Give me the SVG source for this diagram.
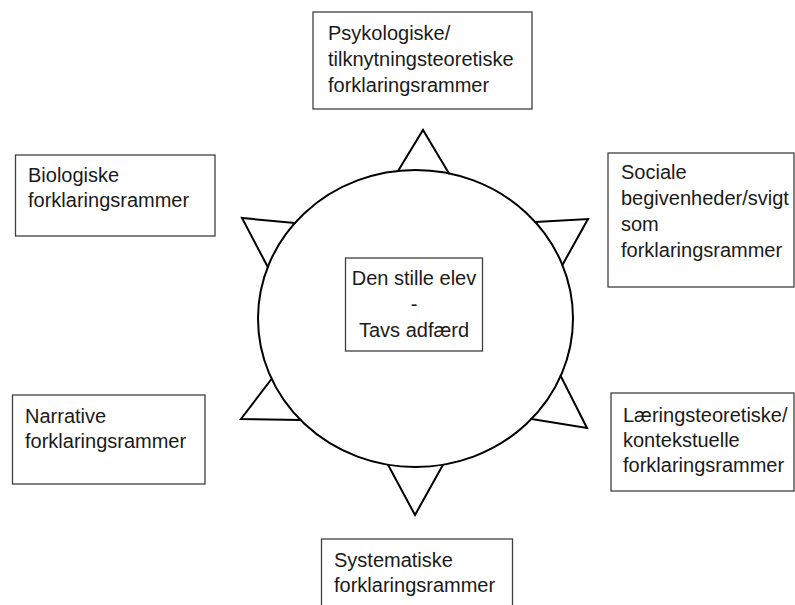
<svg xmlns="http://www.w3.org/2000/svg" width="795" height="605" viewBox="0 0 795 605">
<style>
  .box { fill: #ffffff; stroke: #404040; stroke-width: 1.3; }
  .lbl { font-family: "Liberation Sans", Arial, sans-serif; font-size: 20px; fill: #1a1a1a; }
  .mid { text-anchor: middle; }
  .shape { fill: none; stroke: #000000; stroke-width: 2; stroke-linejoin: miter; stroke-linecap: round; }
</style>
<rect width="795" height="605" fill="#ffffff"/>

<g id="center">
  <ellipse class="shape" cx="415.5" cy="318.5" rx="157.5" ry="148.5"/>
  <rect class="box" x="345.5" y="258" width="137" height="93"/>
  <text class="lbl mid" x="414" y="285">Den stille elev</text>
  <text class="lbl mid" x="414" y="311">-</text>
  <text class="lbl mid" x="414" y="337">Tavs adfærd</text>
</g>

<g id="connectors">
  <polyline class="shape" points="398,171 423,130 449,173.4"/>
  <polyline class="shape" points="294.9,223 242,218 267.8,267"/>
  <polyline class="shape" points="535.2,222 588,219 562.4,265"/>
  <polyline class="shape" points="271.5,379 241,419 300.5,420"/>
  <polyline class="shape" points="560.7,376 587,428 531.5,419"/>
  <polyline class="shape" points="388,464.7 415,515 443,464.7"/>
</g>

<g id="psykologiske">
  <rect class="box" x="313" y="12" width="219" height="97"/>
  <text class="lbl" x="328" y="40">Psykologiske/</text>
  <text class="lbl" x="328" y="66">tilknytningsteoretiske</text>
  <text class="lbl" x="328" y="92">forklaringsrammer</text>
</g>

<g id="biologiske">
  <rect class="box" x="15.5" y="155" width="199.5" height="81"/>
  <text class="lbl" x="28" y="182">Biologiske</text>
  <text class="lbl" x="28" y="207">forklaringsrammer</text>
</g>

<g id="sociale">
  <rect class="box" x="608" y="153" width="186" height="134"/>
  <text class="lbl" x="621" y="179">Sociale</text>
  <text class="lbl" x="621" y="205">begivenheder/svigt</text>
  <text class="lbl" x="621" y="231">som</text>
  <text class="lbl" x="621" y="257">forklaringsrammer</text>
</g>

<g id="narrative">
  <rect class="box" x="12.5" y="395" width="192.5" height="89"/>
  <text class="lbl" x="25" y="423">Narrative</text>
  <text class="lbl" x="25" y="448">forklaringsrammer</text>
</g>

<g id="laeringsteoretiske">
  <rect class="box" x="611" y="393" width="183" height="98"/>
  <text class="lbl" x="623" y="422">Læringsteoretiske/</text>
  <text class="lbl" x="623" y="447">kontekstuelle</text>
  <text class="lbl" x="623" y="472">forklaringsrammer</text>
</g>

<g id="systematiske">
  <rect class="box" x="321.5" y="539" width="191" height="80"/>
  <text class="lbl" x="334" y="567">Systematiske</text>
  <text class="lbl" x="334" y="592">forklaringsrammer</text>
</g>
</svg>
